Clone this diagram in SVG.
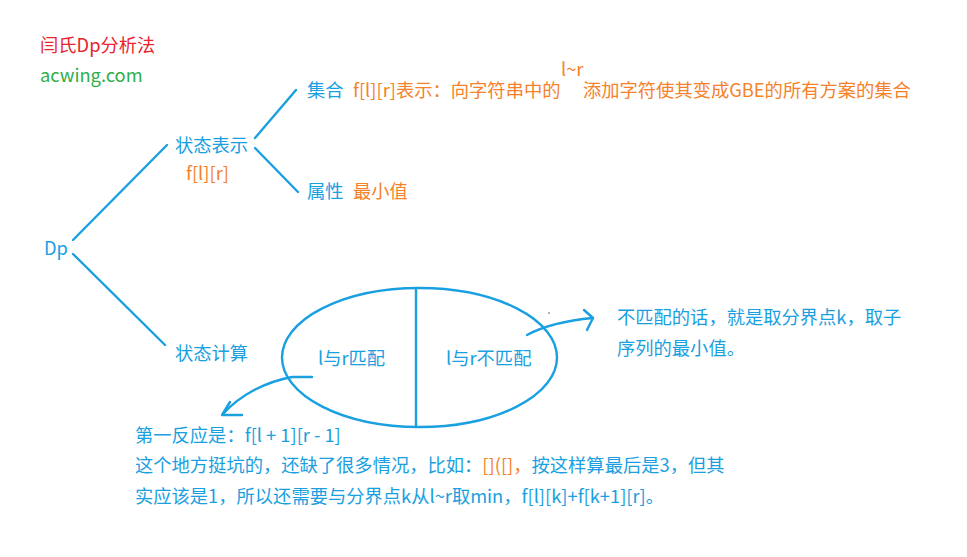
<svg xmlns="http://www.w3.org/2000/svg" width="967" height="557" viewBox="0 0 967 557">
<style>
text{font-family:"Microsoft YaHei","Noto Sans CJK SC","Noto Sans",sans-serif;font-size:18.3px}
.b{fill:#1AA0E0}
.o{fill:#F5822A}
.ln{stroke:#1AA0E0;stroke-width:2.4;fill:none;stroke-linecap:round;stroke-linejoin:round}
</style>
<rect width="967" height="557" fill="#ffffff"/>
<g id="title">
<text x="40" y="52" fill="#E8222E">闫氏Dp分析法</text>
<text x="40" y="82" fill="#2EAF4A">acwing.com</text>
</g>
<g id="connectors">
<line class="ln" x1="73" y1="240" x2="167" y2="145"/>
<line class="ln" x1="73" y1="254" x2="165" y2="345"/>
<line class="ln" x1="255" y1="138" x2="296" y2="90"/>
<line class="ln" x1="255" y1="148" x2="298" y2="192"/>
<path class="ln" d="M312,377 L292,377 C265,382 240,395 223,414"/>
<path class="ln" d="M230,402 L222,415 L242,415"/>
<path class="ln" d="M527,335 C540,328 560,321 593,318"/>
<path class="ln" d="M584,310 L593,318 L587,330"/>
</g>
<g id="dp"><text class="b" x="44" y="255">Dp</text></g>
<g id="state-rep">
<text class="b" x="175" y="152">状态表示</text>
<text class="o" x="186" y="180">f[l][r]</text>
</g>
<g id="set">
<text class="b" x="307" y="97">集合</text>
<text class="o" x="353" y="97">f[l][r]表示：向字符串中的</text>
<text class="o" x="561" y="76">l~r</text>
<text class="o" x="583" y="97">添加字符使其变成GBE的所有方案的集合</text>
</g>
<g id="attr">
<text class="b" x="307" y="198">属性</text>
<text class="o" x="353" y="198">最小值</text>
</g>
<g id="state-calc"><text class="b" x="175" y="360">状态计算</text></g>
<g id="ellipse">
<ellipse class="ln" cx="419.5" cy="357.5" rx="137.5" ry="69.5"/>
<line class="ln" x1="416" y1="288" x2="416" y2="427"/>
<text class="b" x="318" y="365">l与r匹配</text>
<text class="b" x="446" y="365">l与r不匹配</text>
<circle cx="549" cy="313" r="0.8" fill="#555"/>
</g>
<g id="mismatch-note">
<text class="b" x="617" y="324">不匹配的话，就是取分界点k，取子</text>
<text class="b" x="617" y="355">序列的最小值。</text>
</g>
<g id="match-note">
<text class="b" x="135" y="442">第一反应是：f[l + 1][r - 1]</text>
<text class="b" x="135" y="472">这个地方挺坑的，还缺了很多情况，比如：<tspan class="o">[]([]，</tspan>按这样算最后是3，但其</text>
<text class="b" x="135" y="503">实应该是1，所以还需要与分界点k从l~r取min，f[l][k]+f[k+1][r]。</text>
</g>
</svg>
